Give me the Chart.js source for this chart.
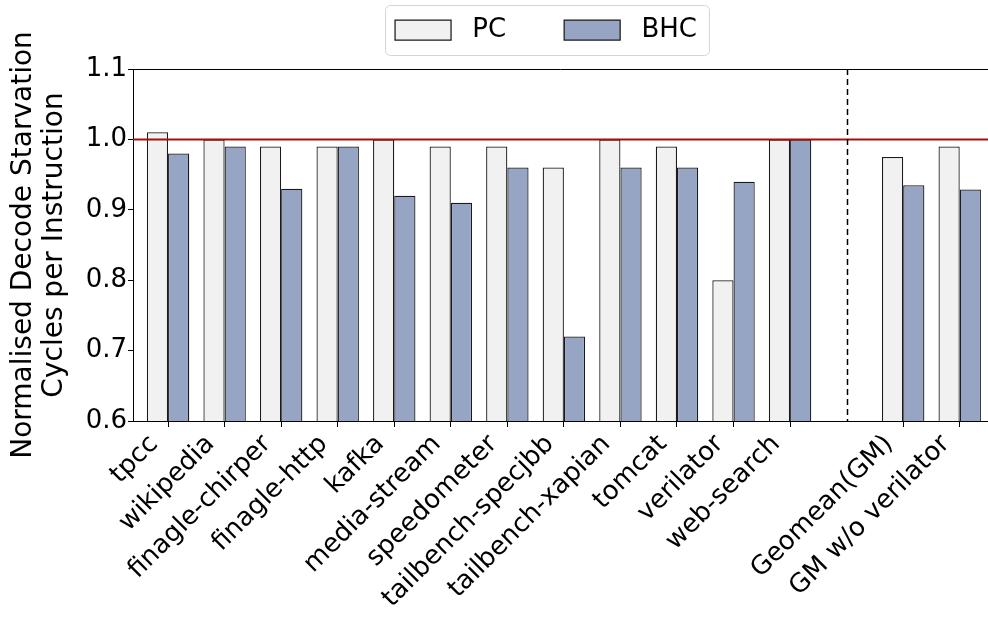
<!DOCTYPE html>
<html>
<head>
<meta charset="utf-8">
<script src="https://cdn.jsdelivr.net/npm/chart.js@4.4.1/dist/chart.umd.min.js"></script>
<style>
    html, body { margin: 0; padding: 0; background: #fff; }
    #wrap { width: 988px; height: 619px; }
</style>
</head>
<body>
<div id="wrap"><canvas id="chart"></canvas></div>
<script>
// empty label = gap before the geomean group
const categories = ['tpcc', 'wikipedia', 'finagle-chirper', 'finagle-http', 'kafka', 'media-stream',
    'speedometer', 'tailbench-specjbb', 'tailbench-xapian', 'tomcat', 'verilator', 'web-search',
    '', 'Geomean(GM)', 'GM w/o verilator'];
const pcValues = [1.01, 1.0, 0.99, 0.99, 1.0, 0.99, 0.99, 0.96, 1.0, 0.99, 0.80, 1.0, null, 0.975, 0.99];
const bhcValues = [0.98, 0.99, 0.93, 0.99, 0.92, 0.91, 0.96, 0.72, 0.96, 0.96, 0.94, 1.0, null, 0.935, 0.929];
const yTicks = [0.6, 0.7, 0.8, 0.9, 1.0, 1.1];
const baseline = 1.0;
const separatorIndex = 12;

const FONT = { family: 'DejaVu Sans', size: 26 };

const toPoints = vals => vals.map((v, i) => ({ x: i, y: v }));

const extras = {
    id: 'extras',
    afterLayout(chart) {
        // move legend up/right so it sits like in the figure
        chart.legend.left += 52;
        chart.legend.right += 52;
        chart.legend.top -= 16;
        chart.legend.bottom -= 16;
    },
    afterDatasetsDraw(chart) {
        const { ctx, chartArea: a, scales: { x, y } } = chart;
        ctx.save();
        // top spine
        ctx.strokeStyle = '#000';
        ctx.lineWidth = 1;
        ctx.beginPath();
        ctx.moveTo(a.left, a.top + 0.5);
        ctx.lineTo(a.right, a.top + 0.5);
        ctx.stroke();
        // reference line at 1.0
        const yb = y.getPixelForValue(baseline);
        ctx.strokeStyle = '#a50f0f';
        ctx.lineWidth = 2;
        ctx.beginPath();
        ctx.moveTo(a.left, yb);
        ctx.lineTo(a.right, yb);
        ctx.stroke();
        // dashed separator
        const xs = Math.round(x.getPixelForValue(separatorIndex)) + 0.5;
        ctx.strokeStyle = '#000';
        ctx.lineWidth = 1.5;
        ctx.setLineDash([6, 4]);
        ctx.beginPath();
        ctx.moveTo(xs, a.top);
        ctx.lineTo(xs, a.bottom);
        ctx.stroke();
        ctx.restore();
    },
    afterDraw(chart) {
        const hb = chart.legend.legendHitBoxes;
        if (!hb || !hb.length) return;
        const ctx = chart.ctx;
        const last = hb[hb.length - 1];
        const l = hb[0].left - 10, r = last.left + last.width + 12;
        const t = hb[0].top - 12, b = hb[0].top + hb[0].height + 12;
        ctx.save();
        ctx.strokeStyle = '#d4d4d4';
        ctx.lineWidth = 1;
        ctx.beginPath();
        ctx.roundRect(l + 0.5, t + 0.5, r - l, b - t, 5);
        ctx.stroke();
        ctx.restore();
    }
};

new Chart(document.getElementById('chart'), {
    type: 'bar',
    data: {
        datasets: [{
            label: 'PC',
            data: toPoints(pcValues),
            backgroundColor: '#f0f1f0',
            borderColor: '#1a1a1a',
            borderWidth: 1.25,
            borderSkipped: 'bottom'
        }, {
            label: 'BHC',
            data: toPoints(bhcValues),
            backgroundColor: '#97a5c4',
            borderColor: '#1a1a1a',
            borderWidth: 1.25,
            borderSkipped: 'bottom'
        }]
    },
    options: {
        responsive: true,
        maintainAspectRatio: false,
        animation: false,
        categoryPercentage: 0.75,
        barPercentage: 1.0,
        layout: { padding: { top: -25, left: 0, right: 0, bottom: 0 } },
        plugins: {
            legend: {
                position: 'top',
                labels: {
                    font: FONT,
                    color: '#000',
                    boxWidth: 56,
                    boxHeight: 20,
                    padding: 58,
                    generateLabels(chart) {
                        return Chart.defaults.plugins.legend.labels.generateLabels(chart)
                            .map(item => ({ ...item, text: ' ' + item.text }));
                    }
                }
            },
            tooltip: { enabled: false }
        },
        scales: {
            x: {
                type: 'linear',
                offset: false,
                min: -0.62,
                max: 14.5,
                afterBuildTicks(scale) {
                    scale.ticks = categories
                        .map((c, i) => ({ value: i, label: c }))
                        .filter(t => t.label !== '');
                },
                afterFit(scale) {
                    scale.height = 198;
                    scale.paddingLeft = 0;
                    scale.paddingRight = 0;
                },
                ticks: {
                    autoSkip: false,
                    minRotation: 45,
                    maxRotation: 45,
                    padding: 2,
                    labelOffset: -14,
                    font: FONT,
                    color: '#000',
                    callback: v => categories[v]
                },
                grid: { display: true, offset: false, drawOnChartArea: false, drawTicks: true, tickLength: 6, color: '#000' },
                border: { display: true, color: '#000', width: 1 }
            },
            y: {
                min: 0.6,
                max: 1.1,
                afterBuildTicks(scale) {
                    scale.ticks = yTicks.map(v => ({ value: v }));
                },
                afterFit(scale) {
                    scale.width = 133;
                    scale.paddingTop = 0;
                    scale.paddingBottom = 0;
                },
                ticks: {
                    padding: 1,
                    font: FONT,
                    color: '#000',
                    callback: v => v.toFixed(1)
                },
                title: {
                    display: true,
                    text: ['Normalised Decode Starvation', 'Cycles per Instruction'],
                    font: { family: 'DejaVu Sans', size: 28, lineHeight: 1.08 },
                    color: '#000',
                    padding: { top: 9, bottom: 0 }
                },
                grid: { display: true, drawOnChartArea: false, drawTicks: true, tickLength: 5, color: '#000' },
                border: { display: true, color: '#000', width: 1 }
            }
        }
    },
    plugins: [extras]
});
</script>
</body>
</html>
